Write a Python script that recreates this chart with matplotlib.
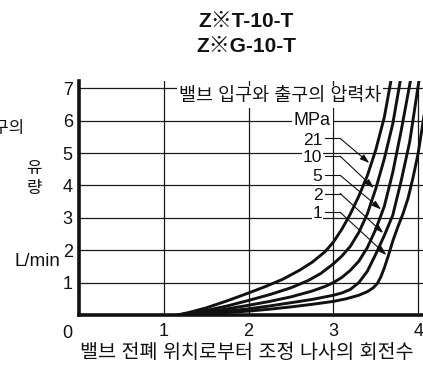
import numpy as np
import matplotlib
matplotlib.use("Agg")
import matplotlib.pyplot as plt

plt.rcParams['font.family'] = ['Liberation Sans', 'Noto Sans CJK KR', 'DejaVu Sans']

# Flow characteristics: adjusting-screw turns (x) vs. outlet flow L/min (y)
pressures = [21, 10, 5, 2, 1]  # MPa, inlet-outlet pressure difference

turns_21 = [1.16, 1.3, 1.5, 1.75, 2.0, 2.2, 2.4, 2.6, 2.75, 2.9, 3.0, 3.1, 3.2, 3.3, 3.4, 3.5, 3.6, 3.68]
flow_21 = [0.0, 0.08, 0.22, 0.44, 0.68, 0.88, 1.1, 1.38, 1.63, 1.95, 2.25, 2.65, 3.12, 3.67, 4.3, 5.1, 6.1, 7.25]

turns_10 = [1.16, 1.3, 1.5, 1.75, 2.0, 2.25, 2.5, 2.7, 2.85, 3.0, 3.1, 3.2, 3.3, 3.4, 3.5, 3.6, 3.7, 3.79]
flow_10 = [0.0, 0.05, 0.14, 0.28, 0.45, 0.63, 0.84, 1.06, 1.28, 1.58, 1.82, 2.12, 2.55, 3.12, 3.9, 4.82, 5.9, 7.25]

turns_5 = [1.16, 1.3, 1.5, 1.75, 2.0, 2.25, 2.5, 2.75, 2.9, 3.0, 3.1, 3.2, 3.3, 3.4, 3.5, 3.6, 3.7, 3.8, 3.91]
flow_5 = [0.0, 0.03, 0.09, 0.19, 0.3, 0.42, 0.56, 0.74, 0.88, 1.0, 1.16, 1.38, 1.66, 2.08, 2.65, 3.35, 4.4, 5.7, 7.25]

turns_2 = [1.16, 1.5, 1.75, 2.0, 2.25, 2.5, 2.75, 3.0, 3.1, 3.2, 3.3, 3.4, 3.5, 3.6, 3.7, 3.8, 3.9, 4.01]
flow_2 = [0.0, 0.06, 0.12, 0.19, 0.28, 0.38, 0.48, 0.61, 0.68, 0.79, 1.0, 1.35, 1.88, 2.45, 3.08, 4.15, 5.35, 7.25]

turns_1 = [1.16, 1.5, 1.75, 2.0, 2.25, 2.5, 2.75, 3.0, 3.15, 3.3, 3.4, 3.47, 3.52, 3.56, 3.6,
           3.65, 3.7, 3.76, 3.82, 3.88, 3.94, 4.0, 4.06, 4.12]
flow_1 = [0.0, 0.04, 0.08, 0.12, 0.18, 0.25, 0.33, 0.42, 0.5, 0.61, 0.72, 0.84, 0.98, 1.18, 1.45,
          1.85, 2.28, 2.72, 3.12, 3.6, 4.25, 5.0, 6.0, 7.25]

curves = [(turns_21, flow_21), (turns_10, flow_10), (turns_5, flow_5),
          (turns_2, flow_2), (turns_1, flow_1)]

x_ticks = [1, 2, 3, 4]
y_ticks = [1, 2, 3, 4, 5, 6, 7]

title_lines = ["Z※T-10-T", "Z※G-10-T"]
legend_title = "밸브 입구와 출구의 압력차"
legend_unit = "MPa"
x_label = "밸브 전폐 위치로부터 조정 나사의 회전수"

W, H = 423, 369
ink = '#111111'
fig = plt.figure(figsize=(W / 100, H / 100), dpi=100)
ax = fig.add_axes([79 / W, (H - 315) / H, (W - 79) / W, (315 - 81) / H])
ax.set_xlim(0, (W - 79) / 84.8)
ax.set_ylim(0, (315 - 81) / 32.4)

ax.set_xticks(x_ticks)
ax.set_yticks(y_ticks)
ax.grid(True, color='#1a1a1a', lw=0.9)
ax.set_axisbelow(True)
ax.tick_params(length=0, labelsize=13, colors=ink)
ax.tick_params(axis='y', pad=4.5)
ax.tick_params(axis='x', pad=5.5)
for s in ('top', 'right'):
    ax.spines[s].set_visible(False)
for s in ('left', 'bottom'):
    ax.spines[s].set_linewidth(2.6)
    ax.spines[s].set_color(ink)
    ax.spines[s].set_zorder(5)

# shared origin label
ax.annotate('0', xy=(0, 0), xytext=(-12, -10), textcoords='offset pixels',
            ha='center', va='top', fontsize=13, color=ink, annotation_clip=False)

for tx, fy in curves:
    ax.plot(tx, fy, color=ink, lw=2.1, solid_joinstyle='round',
            solid_capstyle='butt', zorder=4)

box = dict(boxstyle='square,pad=0.12', fc='white', ec='none')
ax.text(2.37, 6.73, legend_title, ha='center', va='center', fontsize=13.3,
        bbox=box, zorder=3, color=ink)
ax.text(2.75, 6.0, legend_unit, ha='center', va='center', fontsize=13,
        bbox=box, zorder=3, color=ink)

label_y = [5.40, 4.85, 4.26, 3.70, 3.12]
tip_y = [4.69, 3.92, 3.26, 2.53, 1.85]
for p, ly, ty, (tx, fy) in zip(pressures, label_y, tip_y, curves):
    ax.text(2.87, ly, str(p), ha='right', va='center', fontsize=12.5,
            bbox=dict(boxstyle='square,pad=0.05', fc='white', ec='none'),
            zorder=3, color=ink)
    hx = 3.08
    ax.plot([2.90, hx], [ly + 0.05, ly + 0.05], color=ink, lw=0.8, zorder=3)
    tip_x = np.interp(ty, fy, tx) - 0.025
    ax.annotate('', xy=(tip_x, ty), xytext=(hx, ly + 0.05),
                arrowprops=dict(arrowstyle='-|>,head_length=0.55,head_width=0.18',
                                color=ink, lw=0.8, shrinkA=0, shrinkB=0),
                zorder=3)

# y-axis caption pieces
fig.text(24 / W, 1 - 128 / H, "출구의", ha='right', va='center', fontsize=12, color=ink)
fig.text(34 / W, 1 - 169 / H, "유", ha='center', va='center', fontsize=12, color=ink)
fig.text(34 / W, 1 - 188 / H, "량", ha='center', va='center', fontsize=12, color=ink)
fig.text(60 / W, 1 - 261 / H, "L/min", ha='right', va='center', fontsize=13.5, color=ink)

fig.text(80 / W, 1 - 352 / H, x_label, ha='left', va='center', fontsize=14.1, color=ink)

for i, t in enumerate(title_lines):
    fig.text(246 / W, 1 - (21 + 25 * i) / H, t, ha='center', va='center',
             fontsize=15, fontweight='bold', color=ink)

fig.savefig('out.png', dpi=100)
